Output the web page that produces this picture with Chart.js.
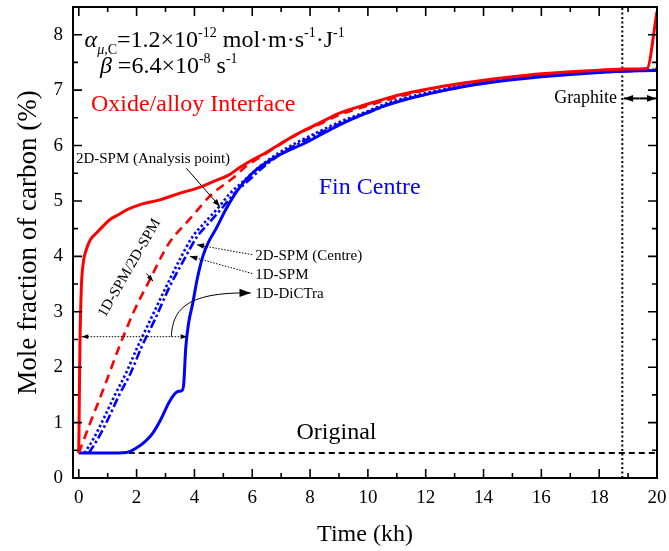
<!DOCTYPE html>
<html>
<head>
<meta charset="utf-8">
<script src="https://cdn.jsdelivr.net/npm/chart.js@4.4.1/dist/chart.umd.min.js"></script>
<style>
  html, body { margin: 0; padding: 0; background: #fff; }
  #wrap { width: 669px; height: 551px; }
</style>
</head>
<body>
<div id="wrap"><canvas id="chart"></canvas></div>
<script>
// time in kh, carbon in mol %
const interfaceTime = [0, 0.02, 0.04, 0.09, 0.16, 0.26, 0.4, 0.61, 0.85, 1.07, 1.4, 1.7, 2.1, 2.8, 3.5, 4.2, 4.65, 5.2, 5.55, 6.0, 6.5, 7.0, 7.6, 8.3, 9.0, 10.0, 10.7, 11.5, 12.7, 14.0, 15.5, 17.0, 18.0, 19.0, 19.65, 20];
const interfaceC    = [0.45, 1.5, 2.4, 3.45, 3.9, 4.12, 4.3, 4.42, 4.55, 4.66, 4.76, 4.85, 4.93, 5.02, 5.14, 5.25, 5.35, 5.47, 5.6, 5.74, 5.88, 6.04, 6.22, 6.4, 6.58, 6.75, 6.86, 6.96, 7.08, 7.18, 7.27, 7.33, 7.36, 7.38, 7.39, 8.42];

const analysisTime = [0, 0.4, 0.85, 1.35, 1.9, 2.45, 3.1, 3.85, 4.6, 5.3, 5.8, 6.3, 6.9, 7.5, 8.3, 9.0, 10.0, 12.0, 14.0, 17.0, 20];
const analysisC    = [0.45, 1.0, 1.6, 2.3, 3.0, 3.57, 4.22, 4.68, 5.12, 5.4, 5.63, 5.8, 6.0, 6.19, 6.38, 6.55, 6.72, 7.0, 7.17, 7.32, 7.38];

const spm1dTime = [0.2, 0.5, 0.84, 1.25, 1.64, 2.0, 2.5, 3.02, 3.5, 3.94, 4.25, 4.86, 5.2, 5.7, 6.3, 6.93, 7.6, 8.3, 9.0, 10.0, 10.7, 12.7, 14.0, 16.0, 18.0, 20];
const spm1dC    = [0.45, 0.7, 1.05, 1.5, 1.9, 2.33, 2.88, 3.45, 3.95, 4.36, 4.55, 4.9, 5.12, 5.36, 5.64, 5.87, 6.07, 6.25, 6.42, 6.62, 6.77, 7.02, 7.14, 7.26, 7.33, 7.37];

const spm2dTime = [0.35, 0.65, 1.0, 1.4, 1.8, 2.16, 2.65, 3.14, 3.65, 4.1, 4.45, 5.0, 5.35, 5.85, 6.45, 7.05, 7.7, 8.4, 9.1, 10.1, 10.8, 12.7, 14.0, 16.0, 18.0, 20];
const spm2dC    = [0.45, 0.7, 1.05, 1.5, 1.9, 2.35, 2.88, 3.45, 3.95, 4.36, 4.57, 4.9, 5.12, 5.36, 5.64, 5.87, 6.06, 6.24, 6.41, 6.61, 6.76, 7.0, 7.13, 7.25, 7.32, 7.36];

const dictraTime = [0, 1.0, 1.64, 1.99, 2.3, 2.56, 2.85, 3.14, 3.42, 3.57, 3.63, 3.7, 3.8, 3.94, 4.1, 4.29, 4.5, 4.75, 5.09, 5.5, 6.0, 6.9, 7.85, 9.0, 10.0, 10.72, 12.68, 14.0, 16.0, 18.0, 20];
const dictraC    = [0.45, 0.45, 0.46, 0.54, 0.66, 0.81, 1.07, 1.38, 1.56, 1.58, 1.7, 2.35, 2.8, 3.15, 3.6, 4.0, 4.27, 4.5, 4.85, 5.2, 5.5, 5.82, 6.05, 6.37, 6.6, 6.74, 7.0, 7.12, 7.24, 7.32, 7.36];

const originalTime = [0, 20];
const originalC    = [0.45, 0.45];

const graphiteTime = [18.8, 18.8];
const graphiteC    = [0, 8.5];

const xTickValues = [0, 2, 4, 6, 8, 10, 12, 14, 16, 18, 20];
const xMinorValues = [1, 3, 5, 7, 9, 11, 13, 15, 17, 19];
const yTickValues = [0, 1, 2, 3, 4, 5, 6, 7, 8];
const yMinorValues = [0.5, 1.5, 2.5, 3.5, 4.5, 5.5, 6.5, 7.5];

const SERIF = '"Liberation Serif", "Times New Roman", serif';
const RED = '#FF0000';
const BLUE = '#0000FF';

const toPoints = (xs, ys) => xs.map((x, i) => ({ x, y: ys[i] }));

function serif(size, italic) {
  return `${italic ? 'italic ' : ''}${size}px ${SERIF}`;
}

function arrow(ctx, x1, y1, x2, y2, head, dash) {
  ctx.save();
  ctx.setLineDash(dash || []);
  ctx.beginPath();
  ctx.moveTo(x1, y1);
  ctx.lineTo(x2, y2);
  ctx.stroke();
  ctx.setLineDash([]);
  arrowHead(ctx, x2, y2, Math.atan2(y2 - y1, x2 - x1), head);
  ctx.restore();
}

function arrowHead(ctx, x, y, ang, head) {
  ctx.beginPath();
  ctx.moveTo(x, y);
  ctx.lineTo(x - head * Math.cos(ang - 0.35), y - head * Math.sin(ang - 0.35));
  ctx.lineTo(x - head * Math.cos(ang + 0.35), y - head * Math.sin(ang + 0.35));
  ctx.closePath();
  ctx.fill();
}

function richText(ctx, x, y, parts) {
  let cx = x;
  for (const p of parts) {
    ctx.font = serif(p.s || 24, p.i);
    const dy = p.sup ? -10 : p.sub ? 7 : 0;
    ctx.fillText(p.t, cx, y + dy);
    cx += ctx.measureText(p.t).width;
  }
}

// inward ticks on all four sides plus closed frame
const frame = {
  id: 'frame',
  afterDatasetsDraw(chart) {
    const { ctx, chartArea: a, scales: { x, y } } = chart;
    ctx.save();
    ctx.strokeStyle = '#000';
    ctx.lineWidth = 1.6;
    ctx.beginPath();
    const tickX = (v, len) => {
      const p = x.getPixelForValue(v);
      ctx.moveTo(p, a.bottom); ctx.lineTo(p, a.bottom - len);
      ctx.moveTo(p, a.top); ctx.lineTo(p, a.top + len);
    };
    const tickY = (v, len) => {
      const p = y.getPixelForValue(v);
      ctx.moveTo(a.left, p); ctx.lineTo(a.left + len, p);
      ctx.moveTo(a.right, p); ctx.lineTo(a.right - len, p);
    };
    xTickValues.forEach((v) => tickX(v, 9));
    xMinorValues.forEach((v) => tickX(v, 5));
    yTickValues.forEach((v) => tickY(v, 9));
    yMinorValues.forEach((v) => tickY(v, 5));
    ctx.stroke();
    ctx.lineWidth = 2;
    ctx.strokeRect(a.left, a.top, a.right - a.left, a.bottom - a.top);
    ctx.restore();
  },
};

const notes = {
  id: 'notes',
  afterDraw(chart) {
    const { ctx, scales: { x, y } } = chart;
    const px = (v) => x.getPixelForValue(v);
    const py = (v) => y.getPixelForValue(v);
    ctx.save();
    ctx.fillStyle = '#000';
    ctx.strokeStyle = '#000';
    ctx.textBaseline = 'alphabetic';

    richText(ctx, px(0.2), py(7.77), [
      { t: 'α', i: true }, { t: 'μ', i: true, s: 14, sub: true }, { t: ',C', s: 14, sub: true },
      { t: '=1.2×10' }, { t: '-12', s: 14, sup: true },
      { t: ' mol·m·s' }, { t: '-1', s: 14, sup: true },
      { t: '·J' }, { t: '-1', s: 14, sup: true },
    ]);
    richText(ctx, px(0.73), py(7.3), [
      { t: 'β', i: true }, { t: ' =6.4×10' }, { t: '-8', s: 14, sup: true },
      { t: ' s' }, { t: '-1', s: 14, sup: true },
    ]);

    ctx.textBaseline = 'middle';
    ctx.font = serif(24);
    ctx.fillStyle = RED;
    ctx.fillText('Oxide/alloy Interface', px(0.42), py(6.73));
    ctx.fillStyle = BLUE;
    ctx.fillText('Fin Centre', px(8.3), py(5.23));
    ctx.fillStyle = '#000';
    ctx.fillText('Original', px(7.53), py(0.81));

    ctx.font = serif(18);
    ctx.textAlign = 'right';
    ctx.fillText('Graphite', px(18.62), py(6.85));
    ctx.lineWidth = 2;
    arrow(ctx, px(19.4), py(6.85), px(18.85), py(6.85), 10);
    arrow(ctx, px(19.4), py(6.85), px(19.98), py(6.85), 10);

    ctx.textAlign = 'left';
    ctx.font = serif(15);
    ctx.fillText('2D-SPM (Analysis point)', px(-0.1), py(5.75));
    ctx.fillText('2D-SPM (Centre)', px(6.1), py(4.0));
    ctx.fillText('1D-SPM', px(6.1), py(3.66));
    ctx.fillText('1D-DiCTra', px(6.1), py(3.32));

    ctx.save();
    ctx.translate(px(1.76), py(3.79));
    ctx.rotate(-60 * Math.PI / 180);
    ctx.textAlign = 'center';
    ctx.fillText('1D-SPM/2D-SPM', 0, 0);
    ctx.restore();

    ctx.lineWidth = 1;
    arrow(ctx, px(3.72), py(5.59), px(4.88), py(4.9), 8);
    arrow(ctx, px(2.34), py(3.69), px(2.57), py(3.55), 7);
    arrow(ctx, px(6.0), py(4.03), px(4.07), py(4.21), 8, [1.5, 1.5]);
    arrow(ctx, px(6.0), py(3.69), px(3.84), py(4.0), 8, [1.5, 1.5]);

    // span between interface and fin centre at 2.55 %
    const sy = py(2.55);
    ctx.save();
    ctx.setLineDash([1.5, 1.5]);
    ctx.beginPath();
    ctx.moveTo(px(0.1), sy);
    ctx.lineTo(px(3.75), sy);
    ctx.stroke();
    ctx.restore();
    arrowHead(ctx, px(0.1), sy, Math.PI, 7);
    arrowHead(ctx, px(3.75), sy, 0, 7);

    // curved pointer to 1D-DiCTra label
    const ex = px(5.95), ey = py(3.34);
    ctx.beginPath();
    ctx.moveTo(px(3.2), sy);
    ctx.bezierCurveTo(px(3.25), py(3.0), px(3.6), py(3.36), ex, ey);
    ctx.stroke();
    arrowHead(ctx, ex, ey, 0, 12);

    ctx.restore();
  },
};

const line = (xs, ys, color, extra) => Object.assign({
  data: toPoints(xs, ys),
  borderColor: color,
  borderWidth: 3,
  pointRadius: 0,
  fill: false,
  cubicInterpolationMode: 'monotone',
}, extra);

new Chart(document.getElementById('chart'), {
  type: 'line',
  data: {
    datasets: [
      line(interfaceTime, interfaceC, RED),
      line(dictraTime, dictraC, BLUE),
      line(analysisTime, analysisC, RED, { borderWidth: 2.6, borderDash: [9, 6] }),
      line(spm1dTime, spm1dC, BLUE, { borderWidth: 2.6, borderDash: [2.5, 2.5] }),
      line(spm2dTime, spm2dC, BLUE, { borderWidth: 2.6, borderDash: [9, 3, 2.5, 3] }),
      line(originalTime, originalC, '#000', { borderWidth: 2, borderDash: [6, 4], cubicInterpolationMode: 'default' }),
      line(graphiteTime, graphiteC, '#000', { borderWidth: 2, borderDash: [2, 2.5], cubicInterpolationMode: 'default' }),
    ],
  },
  options: {
    responsive: true,
    maintainAspectRatio: false,
    animation: false,
    layout: { padding: { top: 7, right: 12, left: 0, bottom: 0 } },
    plugins: { legend: { display: false }, tooltip: { enabled: false } },
    scales: {
      x: {
        type: 'linear',
        min: -0.2,
        max: 20,
        grid: { display: false, drawTicks: false },
        border: { display: false },
        afterBuildTicks: (scale) => { scale.ticks = xTickValues.map((value) => ({ value })); },
        afterFit: (scale) => { scale.height = 73; scale.paddingLeft = 0; scale.paddingRight = 0; },
        ticks: { color: '#000', padding: 9, autoSkip: false, maxRotation: 0, font: { family: SERIF, size: 19 } },
        title: { display: true, text: 'Time (kh)', color: '#000', padding: { top: 0, bottom: 2 }, font: { family: SERIF, size: 24 } },
      },
      y: {
        min: 0,
        max: 8.5,
        grid: { display: false, drawTicks: false },
        border: { display: false },
        afterBuildTicks: (scale) => { scale.ticks = yTickValues.map((value) => ({ value })); },
        afterFit: (scale) => { scale.width = 73; scale.paddingTop = 0; scale.paddingBottom = 0; },
        ticks: { color: '#000', padding: 10, font: { family: SERIF, size: 19 } },
        title: { display: true, text: 'Mole fraction of carbon (%)', color: '#000', padding: { top: 13, bottom: 0 }, font: { family: SERIF, size: 27 } },
      },
    },
  },
  plugins: [frame, notes],
});
</script>
</body>
</html>
